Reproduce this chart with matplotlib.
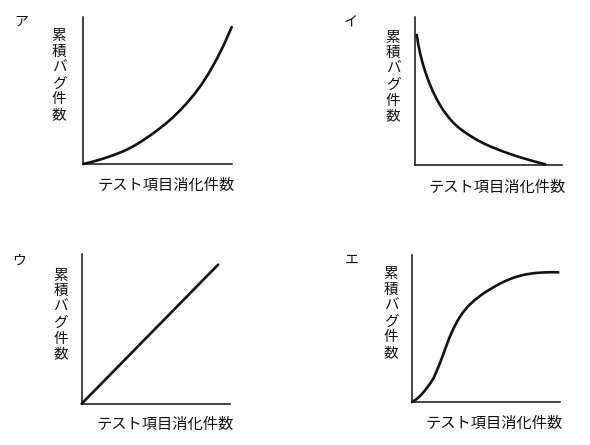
import matplotlib
matplotlib.use("Agg")
import matplotlib.pyplot as plt

plt.rcParams['font.family'] = ['Noto Sans CJK JP', 'DejaVu Sans']

W, H = 590, 445

panel_labels = ["ア", "イ", "ウ", "エ"]
y_label = "累積バグ件数"
x_label = "テスト項目消化件数"

# ア: accelerating curve
a_x = [0, 5, 10, 15, 20, 25, 30, 35, 40, 45, 50, 55, 60, 65, 70, 75, 80, 85, 90, 95, 100]
a_y = [0, 1.22, 2.61, 4.17, 5.89, 7.84, 10.06, 12.8, 15.9, 19.3, 23.0, 26.9, 31.3, 36.2,
       41.6, 47.6, 54.4, 62.4, 71.4, 81.5, 93.0]
# イ: decaying curve
i_x = [1.4, 2.4, 3.6, 5.2, 7.0, 8.7, 10.4, 12.6, 14.9, 17.1, 19.4, 22.8, 26.2, 29.6,
       33.0, 37.5, 42.1, 46.6, 51.1, 57.9, 63.0, 69.0, 75.0, 81.5, 88.5]
i_y = [87.7, 81.5, 75.6, 69.3, 63.4, 58.5, 54.1, 49.1, 44.5, 40.6, 36.9, 32.4, 28.5, 25.4,
       22.8, 19.8, 17.0, 14.7, 12.6, 9.9, 8.0, 6.0, 4.2, 2.3, 0.5]
# ウ: straight line
u_x = [0, 92]
u_y = [0, 92.7]
# エ: S-curve
e_x = [0, 2.5, 5.4, 8.5, 12.2, 14.5, 16.7, 19.0, 21.2, 23.5, 25.7, 28.0, 30.3, 32.5,
       34.7, 38.0, 41.5, 45.0, 48.3, 52.0, 55.0, 59.6, 64.0, 68.0, 72.0, 76.0, 80.0,
       84.0, 88.0, 92.0, 96.0, 99.0]
e_y = [0, 1.5, 4.0, 7.5, 12.4, 16.0, 21.0, 26.6, 32.5, 38.8, 44.5, 49.7, 54.2, 57.9,
       61.1, 65.0, 68.4, 71.2, 73.7, 76.0, 77.8, 80.4, 82.5, 84.1, 85.4, 86.4, 87.1,
       87.6, 87.9, 88.05, 88.1, 88.0]

series = [(a_x, a_y), (i_x, i_y), (u_x, u_y), (e_x, e_y)]

# axes boxes in pixel coords: left, top(axis top), right, bottom(axis line)
boxes = [
    (83.3, 16.7, 231.7, 164.0),
    (414.7, 16.7, 562.0, 165.0),
    (81.7, 253.7, 230.0, 403.7),
    (412.0, 254.7, 559.7, 402.0),
]
panel_pos = [(21, 21.5), (351, 22.5), (19, 260.5), (352, 259.5)]
ylab_pos = [(59, 75.5), (393, 77), (60.5, 315), (391, 313.5)]
xlab_pos = [(166, 185.5), (497.5, 187.5), (165, 424.5), (494, 423)]

fig = plt.figure(figsize=(W / 100, H / 100), dpi=100)
fig.patch.set_facecolor("white")

def fx(x):
    return x / W

def fy(y):
    return 1 - y / H

ink = "#111111"

for k in range(4):
    l, t, r, b = boxes[k]
    ax = fig.add_axes([fx(l), fy(b), (r - l) / W, (b - t) / H])
    ax.set_xlim(0, 100)
    ax.set_ylim(0, 100)
    for s in ["top", "right"]:
        ax.spines[s].set_visible(False)
    for s in ["left", "bottom"]:
        ax.spines[s].set_linewidth(1.1)
        ax.spines[s].set_color(ink)
    ax.set_xticks([])
    ax.set_yticks([])
    ax.patch.set_alpha(0)
    xs, ys = series[k]
    ax.plot(xs, ys, color=ink, lw=1.9, clip_on=False,
            solid_capstyle="round", solid_joinstyle="round")

    px, py = panel_pos[k]
    fig.text(fx(px), fy(py), panel_labels[k], ha="center", va="center",
             fontsize=10, color=ink)
    yx, yy = ylab_pos[k]
    fig.text(fx(yx), fy(yy), "\n".join(y_label), ha="center", va="center",
             fontsize=10.5, linespacing=1.16, color=ink)
    xx, xy = xlab_pos[k]
    fig.text(fx(xx), fy(xy), x_label, ha="center", va="center",
             fontsize=11, color=ink)

fig.savefig("out.png", dpi=100, facecolor="white")
